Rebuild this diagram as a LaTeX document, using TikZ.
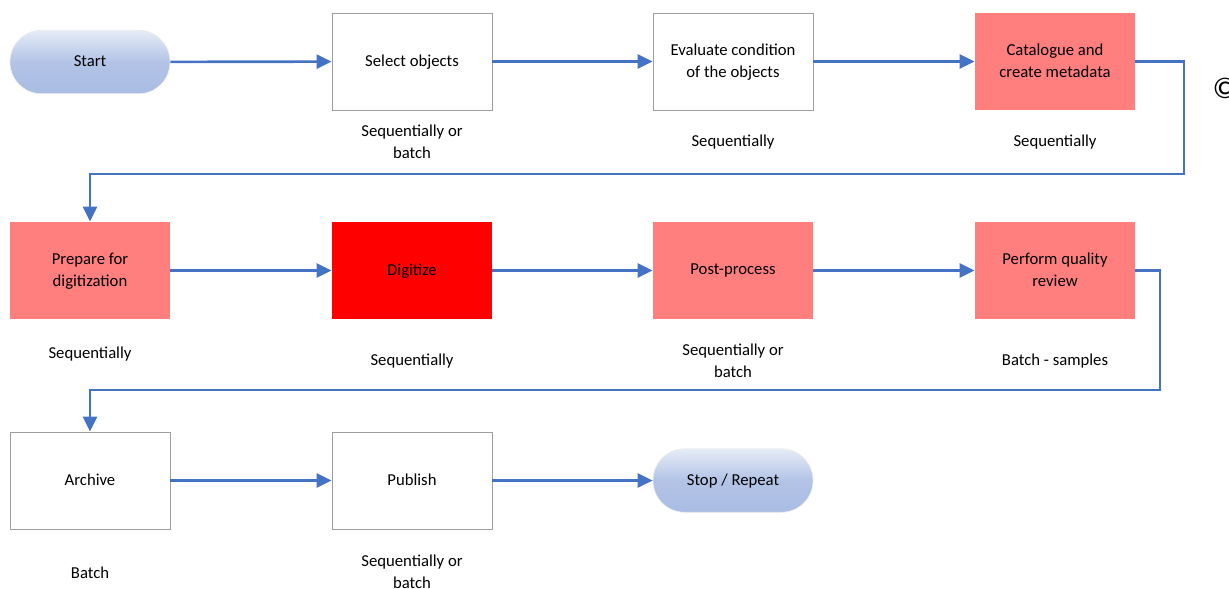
\documentclass[tikz,border=0pt]{standalone}
\usepackage{fontspec}
\setmainfont{Carlito}
\usetikzlibrary{arrows.meta,positioning}
\definecolor{flowblue}{HTML}{4472C4}
\definecolor{softred}{HTML}{FF7F7F}
\definecolor{pillblue}{HTML}{A9BCE3}
\definecolor{pilltop}{HTML}{E6ECF7}
\def\txt{\fontsize{9.5}{12.5}\selectfont}
\tikzset{
  stagebox/.style={draw=gray!75, line width=0.5pt, minimum width=3.2cm, minimum height=1.94cm, align=center, font=\txt, inner sep=1pt, text depth=1pt},
  hotbox/.style={stagebox, draw=none, fill=softred},
  pill/.style={draw=white!85!gray, rounded corners=0.63cm, minimum width=3.2cm, minimum height=1.27cm, font=\txt, text depth=1pt, top color=pilltop, bottom color=pillblue, middle color=pillblue!85!pilltop},
  note/.style={align=center, font=\txt},
  flow/.style={draw=flowblue, line width=1.5pt, -{Triangle[length=0.3cm,width=0.28cm]}}
}

\begin{document}
\begin{tikzpicture}[x=0.02cm,y=-0.02cm]
    \useasboundingbox (0,0) rectangle (1229,588);
    % first row
    \node[pill] (start) at (90,62) {Start};
    \node[stagebox] (select) at (412,61.5) {Select objects};
    \node[stagebox] (evaluate) at (733,61.5) {Evaluate condition\\of the objects};
    \node[hotbox] (catalogue) at (1055,61.5) {Catalogue and\\create metadata};
    \node[note] (selectnote) at (412,142) {Sequentially or\\batch};
    \node[note] (evalnote) at (733,142) {Sequentially};
    \node[note] (catnote) at (1055,142) {Sequentially};
    \node[font=\fontsize{17}{17}\selectfont] (copy) at (1225,88) {©};
    % second row
    \node[hotbox] (prepare) at (90,270.5) {Prepare for\\digitization};
    \node[stagebox, draw=none, fill=red] (digitize) at (412,270.5) {Digitize};
    \node[hotbox] (postproc) at (733,270.5) {Post-process};
    \node[hotbox] (review) at (1055,270.5) {Perform quality\\review};
    \node[note] (prepnote) at (90,354) {Sequentially};
    \node[note] (dignote) at (412,361) {Sequentially};
    \node[note] (postnote) at (733,361) {Sequentially or\\batch};
    \node[note] (reviewnote) at (1055,361) {Batch - samples};
    % third row
    \node[stagebox] (archive) at (90,480.5) {Archive};
    \node[stagebox] (publish) at (412,480.5) {Publish};
    \node[pill] (stop) at (733,480.5) {Stop / Repeat};
    \node[note] (archnote) at (90,573) {Batch};
    \node[note] (pubnote) at (412,572) {Sequentially or\\batch};
    % connectors
    \coordinate (turnA) at (1184,174);
    \coordinate (turnB) at (1160,390);
    \draw[flow] (start) -- (select);
    \draw[flow] (select) -- (evaluate);
    \draw[flow] (evaluate) -- (catalogue);
    \draw[flow] (catalogue.east) -| (turnA) -| (prepare.north);
    \draw[flow] (prepare) -- (digitize);
    \draw[flow] (digitize) -- (postproc);
    \draw[flow] (postproc) -- (review);
    \draw[flow] (review.east) -| (turnB) -| (archive.north);
    \draw[flow] (archive) -- (publish);
    \draw[flow] (publish) -- (stop);
  \end{tikzpicture}
\end{document}
